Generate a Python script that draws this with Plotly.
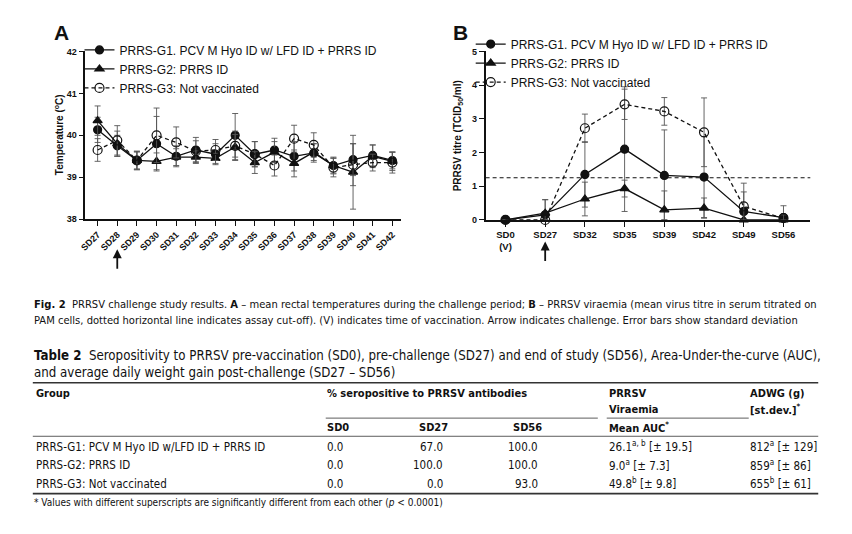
import plotly.graph_objects as go

W, H = 852, 534

# ---------------- data ----------------
days_a = ["SD27", "SD28", "SD29", "SD30", "SD31", "SD32", "SD33", "SD34",
          "SD35", "SD36", "SD37", "SD38", "SD39", "SD40", "SD41", "SD42"]
g1_temp = [40.13, 39.75, 39.40, 39.80, 39.50, 39.65, 39.55, 40.00,
           39.55, 39.65, 39.50, 39.58, 39.28, 39.42, 39.52, 39.40]
g1_temp_sd = [0.30, 0.25, 0.20, 0.65, 0.25, 0.30, 0.25, 0.52,
              0.30, 0.28, 0.35, 0.22, 0.18, 0.38, 0.25, 0.20]
g2_temp = [40.35, 39.80, 39.40, 39.38, 39.48, 39.48, 39.45, 39.72,
           39.35, 39.60, 39.33, 39.60, 39.28, 39.12, 39.50, 39.38]
g2_temp_sd = [0.35, 0.30, 0.22, 0.20, 0.20, 0.15, 0.12, 0.30,
              0.26, 0.25, 0.32, 0.20, 0.20, 0.88, 0.27, 0.22]
g3_temp = [39.65, 39.88, 39.40, 40.00, 39.83, 39.62, 39.65, 39.75,
           39.55, 39.28, 39.92, 39.77, 39.23, 39.30, 39.35, 39.35]
g3_temp_sd = [0.27, 0.35, 0.22, 0.65, 0.37, 0.25, 0.25, 0.35,
              0.30, 0.25, 0.32, 0.29, 0.22, 0.50, 0.20, 0.25]

days_b = ["SD0", "SD27", "SD32", "SD35", "SD39", "SD42", "SD49", "SD56"]
days_b_labels = ["SD0<br>(V)", "SD27", "SD32", "SD35", "SD39", "SD42", "SD49", "SD56"]
g1_titre = [0.00, 0.15, 1.35, 2.10, 1.32, 1.27, 0.25, 0.07]
g1_titre_sd = [0.00, 0.45, 0.97, 1.85, 1.35, 1.20, 0.58, 0.35]
g2_titre = [0.00, 0.20, 0.62, 0.93, 0.30, 0.35, 0.00, 0.00]
g2_titre_sd = [0.00, 0.40, 0.50, 0.25, 0.56, 0.30, 0.00, 0.00]
g3_titre = [0.00, 0.00, 2.72, 3.43, 3.22, 2.60, 0.40, 0.05]
g3_titre_sd = [0.00, 0.00, 0.42, 0.45, 0.41, 1.02, 0.69, 0.10]
cutoff = 1.25

series_names = ["PRRS-G1. PCV M Hyo ID w/ LFD ID + PRRS ID",
                "PRRS-G2: PRRS ID",
                "PRRS-G3: Not vaccinated"]

# table data
tbl_groups = ["PRRS-G1: PCV M Hyo ID w/LFD ID + PRRS ID",
              "PRRS-G2: PRRS ID",
              "PRRS-G3: Not vaccinated"]
tbl_sd0 = [0.0, 0.0, 0.0]
tbl_sd27 = [67.0, 100.0, 0.0]
tbl_sd56 = [100.0, 100.0, 93.0]
tbl_auc = [26.1, 9.0, 49.8]
tbl_auc_sd = [19.5, 7.3, 9.8]
tbl_auc_sup = ["a, b", "a", "b"]
tbl_adwg = [812, 859, 655]
tbl_adwg_sd = [129, 86, 61]
tbl_adwg_sup = ["a", "a", "b"]

# ---------------- helpers ----------------
def px(x):
    return x / W

def py(y):
    return 1 - y / H

BLACK = "#111111"
ERR = "#555555"
CHART_FONT = "Liberation Sans, Arial, Helvetica, sans-serif"
TEXT_FONT = "Liberation Sans Narrow, Arial Narrow, DejaVu Sans Condensed, sans-serif"

fig = go.Figure()

styles = [
    dict(symbol="circle", size=8, dash="solid"),
    dict(symbol="triangle-up", size=8, dash="solid"),
    dict(symbol="circle-open", size=9, dash="4px,3px"),
]

def add_series(x, y, sd, style, name, xa, ya, legend):
    minus = [min(s, v) if ya == "y2" else s for s, v in zip(sd, y)]
    fig.add_trace(go.Scatter(
        x=x, y=y, mode="lines+markers", name=name,
        xaxis=xa, yaxis=ya, legend=legend, cliponaxis=False,
        line=dict(color=BLACK, width=1.3, dash=style["dash"]),
        marker=dict(symbol=style["symbol"], size=style["size"], color=BLACK,
                    line=dict(color=BLACK, width=1.2)),
        error_y=dict(type="data", array=sd, arrayminus=minus, color=ERR,
                     thickness=0.9, width=3),
    ))

for vals, sd, st, nm in zip([g1_temp, g2_temp, g3_temp],
                            [g1_temp_sd, g2_temp_sd, g3_temp_sd], styles, series_names):
    add_series(days_a, vals, sd, st, nm, "x", "y", "legend")

for vals, sd, st, nm in zip([g1_titre, g2_titre, g3_titre],
                            [g1_titre_sd, g2_titre_sd, g3_titre_sd], styles, series_names):
    add_series(days_b, vals, sd, st, nm, "x2", "y2", "legend2")

axis_common = dict(showline=True, linecolor=BLACK, linewidth=1.5, ticks="outside",
                   ticklen=5, tickwidth=1.3, tickcolor=BLACK, showgrid=False,
                   zeroline=False, mirror=False)

fig.update_layout(
    width=W, height=H, margin=dict(l=0, r=0, t=0, b=0),
    paper_bgcolor="white", plot_bgcolor="white", showlegend=True,
    xaxis=dict(domain=[px(80), px(398)], anchor="y", type="category",
               categoryorder="array", categoryarray=days_a,
               range=[-0.62, 15.45], tickangle=-45,
               tickfont=dict(family=CHART_FONT, size=9, color=BLACK, weight="bold"),
               **axis_common),
    yaxis=dict(domain=[py(218.3), py(47.3)], anchor="x", range=[38, 42], dtick=1,
               tickfont=dict(family=CHART_FONT, size=9, color=BLACK, weight="bold"),
               **axis_common),
    xaxis2=dict(domain=[px(483), px(810)], anchor="y2", type="category",
                categoryorder="array", categoryarray=days_b,
                range=[-0.5, 7.675], tickvals=days_b, ticktext=days_b_labels,
                tickfont=dict(family=CHART_FONT, size=9.5, color=BLACK, weight="bold"),
                **axis_common),
    yaxis2=dict(domain=[py(219), py(47.3)], anchor="x2", range=[0, 5], dtick=1,
                tickfont=dict(family=CHART_FONT, size=9, color=BLACK, weight="bold"),
                **axis_common),
    legend=dict(x=px(74), y=py(31), xanchor="left", yanchor="top",
                bgcolor="rgba(0,0,0,0)", font=dict(family=CHART_FONT, size=12, color=BLACK),
                itemwidth=30, tracegroupgap=0),
    legend2=dict(x=px(468), y=py(25), xanchor="left", yanchor="top",
                 bgcolor="rgba(0,0,0,0)", font=dict(family=CHART_FONT, size=12, color=BLACK),
                 itemwidth=30, tracegroupgap=0),
)

fig.add_shape(type="line", xref="x2 domain", yref="y2", x0=0, x1=1, y0=cutoff, y1=cutoff,
              line=dict(color=BLACK, width=1.2, dash="4px,3px"))

ann = []

def text(x, y, s, size, family=TEXT_FONT, bold=False, xanchor="left", angle=0, color=BLACK):
    ann.append(dict(x=px(x), y=py(y), xref="paper", yref="paper", text=s, showarrow=False,
                    xanchor=xanchor, yanchor="middle", textangle=angle,
                    font=dict(family=family, size=size, color=color,
                              weight="bold" if bold else "normal")))

# panel letters & axis titles
text(46, 28, "A", 21, family=CHART_FONT, bold=True)
text(448, 28, "B", 21, family=CHART_FONT, bold=True)
text(53, 132, "Temperature (<sup>o</sup>C)", 10, family=CHART_FONT, bold=True,
     xanchor="center", angle=-90)
text(455, 133, "PRRSV titre (TCID<sub>50</sub>/ml)", 10, family=CHART_FONT, bold=True,
     xanchor="center", angle=-90)

# challenge arrows
ann.append(dict(x="SD28", xref="x", y=py(249), yref="paper", text="", showarrow=True,
                axref="pixel", ayref="pixel", ax=0, ay=21, arrowhead=2, arrowsize=1,
                arrowwidth=1.8, arrowcolor=BLACK))
ann.append(dict(x="SD27", xref="x2", y=py(241), yref="paper", text="", showarrow=True,
                axref="pixel", ayref="pixel", ax=0, ay=21, arrowhead=2, arrowsize=1,
                arrowwidth=1.8, arrowcolor=BLACK))

# caption
text(26, 305, "<b>Fig. 2</b>  PRRSV challenge study results. <b>A</b> – mean rectal temperatures "
     "during the challenge period; <b>B</b> – PRRSV viraemia (mean virus titre in serum titrated on",
     11.1)
text(26, 322, "PAM cells, dotted horizontal line indicates assay cut-off). (V) indicates time of "
     "vaccination. Arrow indicates challenge. Error bars show standard deviation", 11.1)

# table title
text(26, 357, "<b>Table 2</b>  Seropositivity to PRRSV pre-vaccination (SD0), pre-challenge (SD27) "
     "and end of study (SD56), Area-Under-the-curve (AUC),", 13.2)
text(26, 375, "and average daily weight gain post-challenge (SD27 – SD56)", 13.2)

# table headers
HS = 11.5
HB = 11
text(28, 396, "Group", HB, bold=True)
text(321, 396, "% seropositive to PRRSV antibodies", HB, bold=True)
text(605, 396, "PRRSV", HB, bold=True)
text(605, 412, "Viraemia", HB, bold=True)
text(747, 396, "ADWG (g)", HB, bold=True)
text(747, 412, "[st.dev.]<sup>*</sup>", HB, bold=True)
text(321, 431, "SD0", HB, bold=True)
text(414, 431, "SD27", HB, bold=True)
text(509, 431, "SD56", HB, bold=True)
text(605, 431, "Mean AUC<sup>*</sup>", HB, bold=True)

row_y = [450, 469, 488]
for i, yy in enumerate(row_y):
    text(28, yy, tbl_groups[i], HS)
    text(321, yy, f"{tbl_sd0[i]:.1f}", HS)
    text(442, yy, f"{tbl_sd27[i]:.1f}", HS, xanchor="right")
    text(538, yy, f"{tbl_sd56[i]:.1f}", HS, xanchor="right")
    text(605, yy, f"{tbl_auc[i]:.1f}<sup>{tbl_auc_sup[i]}</sup> [± {tbl_auc_sd[i]:.1f}]", HS)
    text(747, yy, f"{tbl_adwg[i]}<sup>{tbl_adwg_sup[i]}</sup> [± {tbl_adwg_sd[i]}]", HS)

text(26, 507, "* Values with different superscripts are significantly different from each other "
     "(<i>p</i> < 0.0001)", 10)

fig.update_layout(annotations=ann)

# table rules
def rule(x0, x1, y, w):
    fig.add_shape(type="line", xref="paper", yref="paper", x0=px(x0), x1=px(x1),
                  y0=py(y), y1=py(y), line=dict(color="#333333", width=w))

rule(27, 818, 385, 1.6)
rule(322, 596, 421, 0.8)
rule(605, 748, 421, 0.8)
rule(27, 818, 439.5, 0.8)
rule(27, 818, 498, 1.6)

fig.write_html("out.html", config={"displayModeBar": False},
               post_script="document.body.style.margin='0px';")
